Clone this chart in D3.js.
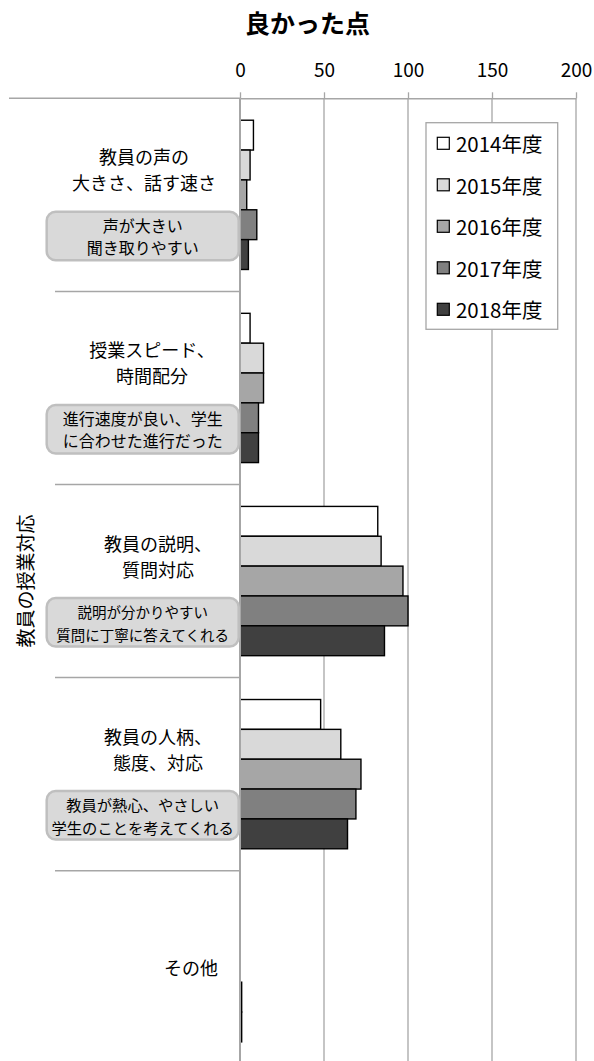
<!DOCTYPE html>
<html>
<head>
<meta charset="utf-8">
<script src="https://cdn.jsdelivr.net/npm/d3@7"></script>
<style>
  body { margin: 0; background: #fff; }
  svg text { font-family: "Noto Sans CJK JP", "Noto Sans", sans-serif; fill: #000; }
</style>
</head>
<body>
<svg width="594" height="1061"></svg>
<script>
// data
let categories = ["声", "スピード", "説明", "人柄", "その他"];
let categoryLabels = [
  ["教員の声の", "大きさ、話す速さ"],
  ["授業スピード、", "時間配分"],
  ["教員の説明、", "質問対応"],
  ["教員の人柄、", "態度、対応"],
  ["その他"]
];
let notes = [
  ["声が大きい", "聞き取りやすい"],
  ["進行速度が良い、学生", "に合わせた進行だった"],
  ["説明が分かりやすい", "質問に丁寧に答えてくれる"],
  ["教員が熱心、やさしい", "学生のことを考えてくれる"]
];
let years = ["2014年度", "2015年度", "2016年度", "2017年度", "2018年度"];
let values2014 = [8, 6, 82, 48, 0];
let values2015 = [6, 14, 84, 60, 0];
let values2016 = [4, 14, 97, 72, 0];
let values2017 = [10, 11, 100, 69, 1];
let values2018 = [5, 11, 86, 64, 1];
let tickValues = [0, 50, 100, 150, 200];
let title = "良かった点";
let outerLabel = "教員の授業対応";

// layout
let colors = ["#ffffff", "#d9d9d9", "#a6a6a6", "#808080", "#404040"];
let labelX = [144, 152, 158, 158, 191];
let noteSize = [16, 16, 14.5, 15.3];
let axisY = 98.3;
let bottomY = 1063.8;
let pad = 0.227;

let series = [values2014, values2015, values2016, values2017, values2018];
let rows = [];
categories.forEach((c, ci) => {
  years.forEach((y, yi) => {
    rows.push({ cat: c, year: y, value: series[yi][ci] });
  });
});

let svg = d3.select("svg");

let x = d3.scaleLinear().domain([0, 200]).range([240, 576]);

let y = d3
  .scaleBand()
  .domain(categories)
  .range([axisY, bottomY])
  .paddingInner(pad)
  .paddingOuter(pad / 2);

let yInner = d3
  .scaleBand()
  .domain(years)
  .range([0, y.bandwidth()]);

let color = d3.scaleOrdinal().domain(years).range(colors);

let bandTop = c => y(c) - (y.step() * pad) / 2;

// title
svg
  .append("text")
  .attr("x", 307.5)
  .attr("y", 21.5)
  .attr("text-anchor", "middle")
  .attr("dominant-baseline", "central")
  .style("font-size", "25px")
  .style("font-weight", "bold")
  .text(title);

// gridlines
svg
  .append("g")
  .selectAll("line")
  .data(tickValues.slice(1))
  .enter()
  .append("line")
  .attr("x1", d => x(d))
  .attr("x2", d => x(d))
  .attr("y1", axisY)
  .attr("y2", bottomY)
  .style("stroke", "#a6a6a6")
  .style("stroke-width", 1.3);

// top value axis
let axis = svg
  .append("g")
  .attr("transform", `translate(0,${axisY})`)
  .call(
    d3
      .axisTop(x)
      .tickValues(tickValues)
      .tickSize(6)
      .tickSizeOuter(0)
      .tickPadding(15)
  );
axis.select(".domain").style("stroke", "#a6a6a6").style("stroke-width", 1.5);
axis.selectAll(".tick line").style("stroke", "#a6a6a6").style("stroke-width", 1.3);
axis.selectAll(".tick text").style("font-size", "19px").style("fill", "#000");

// top line across the category area
svg
  .append("line")
  .attr("x1", 9)
  .attr("x2", 240)
  .attr("y1", axisY)
  .attr("y2", axisY)
  .style("stroke", "#a6a6a6")
  .style("stroke-width", 1.5);

// category separators
svg
  .append("g")
  .selectAll("line")
  .data(categories.slice(1))
  .enter()
  .append("line")
  .attr("x1", 55)
  .attr("x2", 240)
  .attr("y1", d => bandTop(d))
  .attr("y2", d => bandTop(d))
  .style("stroke", "#a6a6a6")
  .style("stroke-width", 1.5);

// bars
svg
  .append("g")
  .selectAll("rect")
  .data(rows.filter(d => d.value > 0))
  .enter()
  .append("rect")
  .attr("x", x(0))
  .attr("y", d => y(d.cat) + yInner(d.year))
  .attr("width", d => x(d.value) - x(0))
  .attr("height", yInner.bandwidth())
  .style("fill", d => color(d.year))
  .style("stroke", "#000")
  .style("stroke-width", 1.4);

// zero axis line
svg
  .append("line")
  .attr("x1", x(0))
  .attr("x2", x(0))
  .attr("y1", axisY)
  .attr("y2", bottomY)
  .style("stroke", "#a6a6a6")
  .style("stroke-width", 2);

// category labels
let labels = svg
  .append("g")
  .selectAll("text")
  .data(categories)
  .enter()
  .append("text")
  .attr("text-anchor", "middle")
  .attr("dominant-baseline", "central")
  .style("font-size", "18px");

labels
  .selectAll("tspan")
  .data((d, i) =>
    categoryLabels[i].map((t, j) => ({
      t: t,
      x: labelX[i],
      y: categoryLabels[i].length > 1 ? bandTop(d) + 58 + j * 26 : bandTop(d) + 96.5
    }))
  )
  .enter()
  .append("tspan")
  .attr("x", d => d.x)
  .attr("y", d => d.y)
  .text(d => d.t);

// callout boxes
let boxes = svg
  .append("g")
  .selectAll("g")
  .data(notes)
  .enter()
  .append("g")
  .attr("transform", (d, i) => `translate(46.7,${bandTop(categories[i]) + 113.5})`);

boxes
  .append("rect")
  .attr("width", 192)
  .attr("height", 48.5)
  .attr("rx", 9)
  .style("fill", "#d9d9d9")
  .style("stroke", "#bfbfbf")
  .style("stroke-width", 2.5);

boxes
  .append("text")
  .attr("text-anchor", "middle")
  .attr("dominant-baseline", "central")
  .style("font-size", (d, i) => noteSize[i] + "px")
  .selectAll("tspan")
  .data(d => d)
  .enter()
  .append("tspan")
  .attr("x", 96)
  .attr("y", (d, j) => 13 + j * 22.5)
  .text(d => d);

// outer category label
svg
  .append("text")
  .attr("transform", `translate(24,${(axisY + bottomY) / 2}) rotate(-90)`)
  .attr("text-anchor", "middle")
  .attr("dominant-baseline", "central")
  .style("font-size", "19px")
  .text(outerLabel);

// legend
let legend = svg.append("g").attr("transform", "translate(426,122.7)");

legend
  .append("rect")
  .attr("width", 131.7)
  .attr("height", 206.6)
  .style("fill", "#fff")
  .style("stroke", "#a6a6a6")
  .style("stroke-width", 1.3);

let items = legend
  .selectAll("g")
  .data(years)
  .enter()
  .append("g")
  .attr("transform", (d, i) => `translate(11.3,${20.6 + i * 41.5})`);

items
  .append("rect")
  .attr("x", 0)
  .attr("y", -6)
  .attr("width", 12)
  .attr("height", 12)
  .style("fill", d => color(d))
  .style("stroke", "#000")
  .style("stroke-width", 1.2);

items
  .append("text")
  .attr("x", 18.7)
  .attr("y", 0)
  .attr("dominant-baseline", "central")
  .style("font-size", "20.5px")
  .text(d => d);
</script>
</body>
</html>
